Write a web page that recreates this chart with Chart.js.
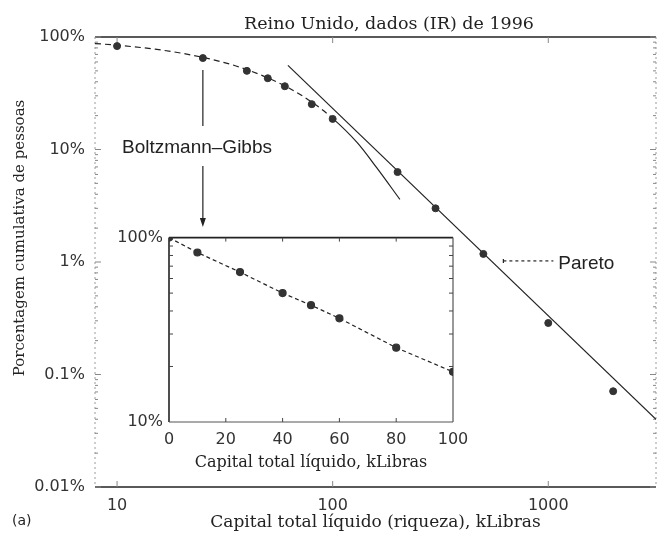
<!DOCTYPE html>
<html>
<head>
<meta charset="utf-8">
<title>Reino Unido, dados (IR) de 1996</title>
<script src="https://cdn.jsdelivr.net/npm/chart.js@4.4.1/dist/chart.umd.min.js"></script>
<style>
  html, body { margin: 0; padding: 0; background: #fff; }
  #wrap { position: relative; width: 661px; height: 535px; }
  #mainChart { position: absolute; left: 0; top: 0; }
  #insetChart { position: absolute; left: 110px; top: 222px; }
</style>
</head>
<body>
<div id="wrap">
  <canvas id="mainChart" width="661" height="535"></canvas>
  <canvas id="insetChart" width="368" height="250"></canvas>
</div>
<script>
// patrimonio liquido (kLibras) e porcentagem cumulativa de pessoas
const wealthK = [0, 10, 25, 40, 50, 60, 80, 100, 200, 300, 500, 1000, 2000];
const cumulativePct = [100, 83, 65, 50, 43, 36.5, 25.3, 18.7, 6.3, 3.0, 1.18, 0.287, 0.071];

// curva exponencial (Boltzmann-Gibbs) lida ao longo do grafico
const gibbsK = [7.9, 10, 15, 20, 30, 40, 60, 80, 100, 130, 160, 205];
const gibbsPct = [87.5, 84.6, 77.9, 71.7, 60.7, 51.3, 36.8, 26.4, 18.9, 11.5, 6.9, 3.6];

// reta de Pareto (lei de potencia)
const paretoK = [62, 3160];
const paretoPct = [56, 0.04];

const mainXTicks = [10, 100, 1000];
const mainYTicks = [0.01, 0.1, 1, 10, 100];
const insetXTicks = [0, 20, 40, 60, 80, 100];
const insetYTicks = [10, 100];

const ink = '#222';
const tickFont = { family: 'DejaVu Sans', size: 16 };

const toXY = (xs, ys) => xs.map((x, i) => ({ x: x, y: ys[i] }));
const pctLabel = v => String(v) + '%';

function line(ctx, x1, y1, x2, y2) {
    ctx.beginPath();
    ctx.moveTo(x1, y1);
    ctx.lineTo(x2, y2);
    ctx.stroke();
}

function logMinorValues(decades) {
    const out = [];
    decades.forEach(d => {
        for (let k = 2; k <= 9; k++) out.push(d * k);
    });
    return out;
}

const mainDecor = {
    id: 'mainDecor',
    beforeDatasetsDraw(chart) {
        const { ctx, chartArea: a, scales: { x, y } } = chart;
        ctx.save();
        ctx.strokeStyle = ink;
        ctx.lineWidth = 1.6;
        line(ctx, a.left, a.top, a.right, a.top);
        line(ctx, a.left, a.bottom, a.right, a.bottom);

        ctx.strokeStyle = '#9a9a9a';
        ctx.lineWidth = 1;
        ctx.setLineDash([2, 3]);
        line(ctx, a.left, a.top, a.left, a.bottom);
        line(ctx, a.right, a.top, a.right, a.bottom);
        ctx.setLineDash([]);

        // marcas menores nos eixos
        ctx.strokeStyle = '#888';
        logMinorValues([0.01, 0.1, 1, 10]).forEach(v => {
            const py = y.getPixelForValue(v);
            line(ctx, a.left, py, a.left + 3, py);
            line(ctx, a.right - 3, py, a.right, py);
        });
        mainYTicks.forEach(v => {
            const py = y.getPixelForValue(v);
            line(ctx, a.left, py, a.left + 6, py);
            line(ctx, a.right - 6, py, a.right, py);
        });
        mainXTicks.forEach(v => {
            const px = x.getPixelForValue(v);
            line(ctx, px, a.bottom, px, a.bottom - 6);
            line(ctx, px, a.top, px, a.top + 6);
        });
        ctx.restore();
    },
    afterDraw(chart) {
        const { ctx, scales: { x, y } } = chart;
        ctx.save();
        ctx.fillStyle = ink;
        ctx.strokeStyle = ink;
        ctx.lineWidth = 1.2;
        ctx.textBaseline = 'middle';

        // titulo
        ctx.font = '17.5px "DejaVu Serif"';
        ctx.textAlign = 'center';
        ctx.fillText('Reino Unido, dados (IR) de 1996', 389, 24);

        // titulo do eixo vertical
        ctx.save();
        ctx.translate(20, 238);
        ctx.rotate(-Math.PI / 2);
        ctx.font = '15px "DejaVu Serif"';
        ctx.fillText('Porcentagem cumulativa de pessoas', 0, 0);
        ctx.restore();

        // rotulo (a)
        ctx.font = '14px "DejaVu Sans"';
        ctx.textAlign = 'left';
        ctx.fillText('(a)', 12, 521);

        // Boltzmann-Gibbs: linha de chamada e seta para o detalhe
        const bx = x.getPixelForValue(25);
        line(ctx, bx, y.getPixelForValue(65) + 12, bx, 126);
        ctx.font = '19px "Liberation Sans"';
        ctx.textAlign = 'center';
        ctx.fillText('Boltzmann\u2013Gibbs', 197, 148);
        line(ctx, bx, 166, bx, 222);
        ctx.beginPath();
        ctx.moveTo(bx - 3, 218);
        ctx.lineTo(bx + 3, 218);
        ctx.lineTo(bx, 227);
        ctx.closePath();
        ctx.fill();

        // Pareto: chamada tracejada
        const px = x.getPixelForValue(500) + 20;
        const py = y.getPixelForValue(1.18) + 7;
        ctx.setLineDash([3, 3]);
        line(ctx, px, py, px + 50, py);
        ctx.setLineDash([]);
        line(ctx, px, py - 2, px, py + 2);
        ctx.textAlign = 'left';
        ctx.font = '19px "Liberation Sans"';
        ctx.fillText('Pareto', px + 55, py + 3);
        ctx.restore();
    }
};

new Chart(document.getElementById('mainChart'), {
    type: 'scatter',
    data: {
        datasets: [
            {
                label: 'dados',
                data: toXY(wealthK.slice(1), cumulativePct.slice(1)),
                showLine: false,
                pointRadius: 3.5,
                pointBackgroundColor: '#333',
                pointBorderColor: '#333'
            },
            {
                label: 'Boltzmann-Gibbs',
                data: toXY(gibbsK, gibbsPct),
                showLine: true,
                pointRadius: 0,
                borderColor: ink,
                borderWidth: 1.2,
                cubicInterpolationMode: 'monotone',
                segment: {
                    borderDash: c => (c.p0.parsed.x < 100 ? [6, 4] : [])
                }
            },
            {
                label: 'Pareto',
                data: toXY(paretoK, paretoPct),
                showLine: true,
                pointRadius: 0,
                borderColor: ink,
                borderWidth: 1.2
            }
        ]
    },
    options: {
        responsive: false,
        animation: false,
        layout: { padding: { top: 37, right: 3, left: 0, bottom: 0 } },
        plugins: { legend: { display: false }, tooltip: { enabled: false } },
        scales: {
            x: {
                type: 'logarithmic',
                min: 7.9,
                max: 3160,
                afterBuildTicks: s => { s.ticks = mainXTicks.map(v => ({ value: v })); },
                afterFit: s => { s.height = 48; },
                grid: { display: false, drawTicks: false },
                border: { display: false },
                ticks: {
                    autoSkip: false, maxRotation: 0, padding: 9,
                    color: '#333', font: tickFont,
                    callback: v => String(v)
                },
                title: {
                    display: true,
                    text: 'Capital total líquido (riqueza), kLibras',
                    color: ink, font: { family: 'DejaVu Serif', size: 17 },
                    padding: { top: 0, bottom: 2 }
                }
            },
            y: {
                type: 'logarithmic',
                min: 0.01,
                max: 100,
                afterBuildTicks: s => { s.ticks = mainYTicks.map(v => ({ value: v })); },
                afterFit: s => { s.width = 95; },
                grid: { display: false, drawTicks: false },
                border: { display: false },
                ticks: {
                    autoSkip: false, padding: 10,
                    color: '#333', font: tickFont,
                    callback: v => pctLabel(v)
                }
            }
        }
    },
    plugins: [mainDecor]
});

const insetDecor = {
    id: 'insetDecor',
    beforeDraw(chart) {
        const { ctx, chartArea: a } = chart;
        ctx.save();
        ctx.fillStyle = '#fff';
        ctx.fillRect(a.left, a.top, a.right - a.left, a.bottom - a.top);
        ctx.restore();
    },
    beforeDatasetsDraw(chart) {
        const { ctx, chartArea: a, scales: { x, y } } = chart;
        ctx.save();
        ctx.strokeStyle = ink;
        ctx.lineWidth = 1.6;
        line(ctx, a.left, a.top, a.right, a.top);
        line(ctx, a.left, a.top, a.left, a.bottom);
        ctx.strokeStyle = '#555';
        ctx.lineWidth = 1.2;
        line(ctx, a.left, a.bottom, a.right, a.bottom);
        line(ctx, a.right, a.top, a.right, a.bottom);

        ctx.strokeStyle = '#444';
        ctx.lineWidth = 1;
        logMinorValues([10]).forEach(v => {
            const py = y.getPixelForValue(v);
            line(ctx, a.left, py, a.left + 4, py);
            line(ctx, a.right - 4, py, a.right, py);
        });
        insetXTicks.slice(1, -1).forEach(v => {
            const px = x.getPixelForValue(v);
            line(ctx, px, a.top, px, a.top + 4);
            line(ctx, px, a.bottom, px, a.bottom - 4);
        });
        ctx.restore();
    }
};

const insetIdx = wealthK.filter(v => v <= 100).length;

new Chart(document.getElementById('insetChart'), {
    type: 'scatter',
    data: {
        datasets: [{
            label: 'dados',
            data: toXY(wealthK.slice(0, insetIdx), cumulativePct.slice(0, insetIdx)),
            showLine: true,
            borderColor: ink,
            borderWidth: 1.2,
            borderDash: [4, 3],
            pointRadius: 3.5,
            pointBackgroundColor: '#333',
            pointBorderColor: '#333'
        }]
    },
    options: {
        responsive: false,
        animation: false,
        layout: { padding: { top: 11, right: 25, left: 0, bottom: 0 } },
        plugins: { legend: { display: false }, tooltip: { enabled: false } },
        scales: {
            x: {
                type: 'linear',
                min: 0,
                max: 100,
                afterBuildTicks: s => { s.ticks = insetXTicks.map(v => ({ value: v })); },
                afterFit: s => { s.height = 50; },
                grid: { display: false, drawTicks: false },
                border: { display: false },
                ticks: { autoSkip: false, maxRotation: 0, padding: 8, color: '#333', font: tickFont },
                title: {
                    display: true,
                    text: 'Capital total líquido, kLibras',
                    color: ink, font: { family: 'DejaVu Serif', size: 16 },
                    padding: { top: 0, bottom: 0 }
                }
            },
            y: {
                type: 'logarithmic',
                min: 10,
                max: 100,
                afterBuildTicks: s => { s.ticks = insetYTicks.map(v => ({ value: v })); },
                afterFit: s => { s.width = 59; },
                grid: { display: false, drawTicks: false },
                border: { display: false },
                ticks: { autoSkip: false, padding: 6, color: '#333', font: tickFont, callback: v => pctLabel(v) }
            }
        }
    },
    plugins: [insetDecor]
});
</script>
</body>
</html>
